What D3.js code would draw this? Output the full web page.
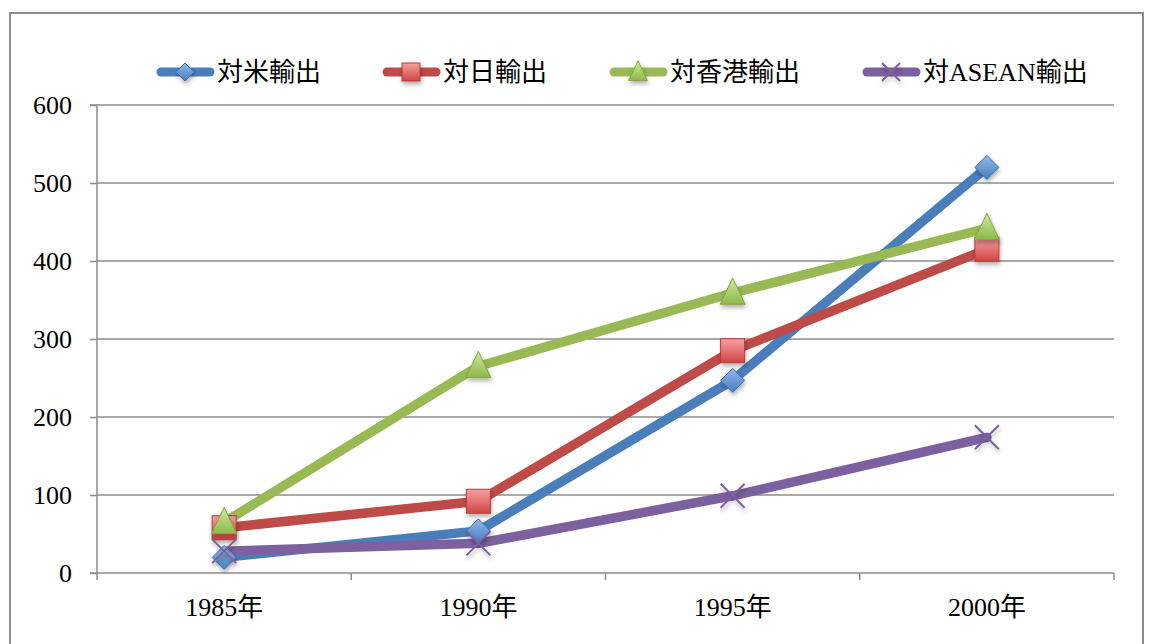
<!DOCTYPE html>
<html><head><meta charset="utf-8">
<script src="https://cdn.jsdelivr.net/npm/d3@7"></script>
<style>body{margin:0;background:#fff}svg{display:block}text{font-family:"Liberation Serif","Noto Sans CJK JP",serif;fill:#000}</style>
</head><body><svg id="c" width="1150" height="644"></svg>
<script>
const categories = ["1985年","1990年","1995年","2000年"];
const seriesNames = ["対米輸出","対日輸出","対香港輸出","対ASEAN輸出"];
const usExports = [20, 54, 247, 520];
const japanExports = [58, 92, 285, 415];
const hongkongExports = [65, 265, 359, 442];
const aseanExports = [28, 38, 99, 174];
const yTicks = [0,100,200,300,400,500,600];
const colors = ["#4a7ebb","#be4b48","#98b954","#7d60a0"];
const markers = ["diamond","square","triangle","x"];
const allSeries = [usExports, japanExports, hongkongExports, aseanExports];

(function(){
const svg = d3.select("#c");
const defs = svg.append("defs");
const f = defs.append("filter").attr("id","sh").attr("x","-50%").attr("y","-50%").attr("width","200%").attr("height","200%");
f.append("feDropShadow").attr("dx",1).attr("dy",3).attr("stdDeviation",2).attr("flood-color","#000").attr("flood-opacity",0.3);
const grads = [["gb","#8fb8ee","#4a7ebb"],["gr","#f5a0a0","#d24545"],["gg","#d0ea9e","#8db84a"]];
grads.forEach(([id,c1,c2])=>{
  const g = defs.append("linearGradient").attr("id",id).attr("x1",0).attr("y1",0).attr("x2",0).attr("y2",1);
  g.append("stop").attr("offset","0%").attr("stop-color",c1);
  g.append("stop").attr("offset","100%").attr("stop-color",c2);
});

svg.append("rect").attr("x",10).attr("y",13).attr("width",1133).attr("height",660)
  .attr("fill","none").attr("stroke","#8c8c8c").attr("stroke-width",2);

const pL=97,pR=1114,pT=105,pB=573;
const x = d3.scaleBand().domain(categories).range([pL,pR]);
const y = d3.scaleLinear().domain([0,600]).range([pB,pT]);

svg.append("g").selectAll("line").data(yTicks.filter(d=>d>0)).join("line")
  .attr("x1",pL).attr("x2",pR).attr("y1",d=>y(d)).attr("y2",d=>y(d))
  .attr("stroke","#8c8c8c").attr("stroke-width",1.5);

const ya = svg.append("g").attr("transform",`translate(${pL},0)`)
  .call(d3.axisLeft(y).tickValues(yTicks).tickSize(7).tickPadding(18).tickFormat(d3.format("d")));
ya.select(".domain").attr("stroke","#8c8c8c").attr("stroke-width",1.5).attr("d",`M-7,${pT}H0V${pB}H-7`);
ya.selectAll(".tick line").attr("stroke","#8c8c8c").attr("stroke-width",1.5);
ya.selectAll("text").attr("font-size",26).style("font-family",'"Liberation Serif",serif');

const xa = svg.append("g").attr("transform",`translate(0,${pB})`)
  .call(d3.axisBottom(x).tickSize(0).tickPadding(25));
xa.select(".domain").attr("stroke","#8c8c8c").attr("stroke-width",1.5).attr("d",`M${pL},0H${pR}`);
xa.selectAll("text").attr("font-size",26);
const bounds = [pL, ...categories.map(c=>x(c)+x.bandwidth())];
xa.append("g").selectAll("line").data(bounds).join("line")
  .attr("x1",d=>d).attr("x2",d=>d).attr("y1",0).attr("y2",7)
  .attr("stroke","#8c8c8c").attr("stroke-width",1.5);

const cx = c => x(c)+x.bandwidth()/2;

function drawMarker(g, type, px, py, scale){
  scale = scale||1;
  if(type==="diamond"){
    const s=12*scale;
    g.append("path").attr("d",`M${px},${py-s}L${px+s},${py}L${px},${py+s}L${px-s},${py}Z`)
      .attr("fill","url(#gb)").attr("stroke","#3d6fae").attr("stroke-width",1).attr("filter","url(#sh)");
  } else if(type==="square"){
    const s=12*scale;
    g.append("rect").attr("x",px-s).attr("y",py-s).attr("width",2*s).attr("height",2*s)
      .attr("fill","url(#gr)").attr("stroke","#b23c3a").attr("stroke-width",1).attr("filter","url(#sh)");
  } else if(type==="triangle"){
    const s=12.5*scale;
    g.append("path").attr("d",`M${px},${py-s*1.2}L${px+s},${py+s*0.9}L${px-s},${py+s*0.9}Z`)
      .attr("fill","url(#gg)").attr("stroke","#84a544").attr("stroke-width",1).attr("filter","url(#sh)");
  } else {
    const s=12*scale;
    g.append("path").attr("d",`M${px-s},${py-s}L${px+s},${py+s}M${px+s},${py-s}L${px-s},${py+s}`)
      .attr("stroke",colors[3]).attr("stroke-width",2).attr("fill","none").attr("filter","url(#sh)");
  }
}

const line = d3.line().x((d,i)=>cx(categories[i])).y(d=>y(d));
allSeries.forEach((vals,i)=>{
  svg.append("path").attr("d",line(vals)).attr("fill","none").attr("stroke",colors[i])
    .attr("stroke-width",9.5).attr("stroke-linejoin","round").attr("stroke-linecap","round");
});
allSeries.forEach((vals,i)=>{
  const g = svg.append("g");
  vals.forEach((v,j)=>drawMarker(g, markers[i], cx(categories[j]), y(v)));
});

const legX = [157, 383, 610, 863];
const lg = svg.append("g");
seriesNames.forEach((n,i)=>{
  const x0 = legX[i], yy=72;
  lg.append("line").attr("x1",x0+4).attr("x2",x0+53).attr("y1",yy).attr("y2",yy)
    .attr("stroke",colors[i]).attr("stroke-width",9).attr("stroke-linecap","round");
  drawMarker(lg, markers[i], x0+28, yy, 0.75);
  lg.append("text").attr("x",x0+60).attr("y",yy).attr("dy","0.35em").attr("font-size",26).text(n);
});
})();
</script></body></html>
